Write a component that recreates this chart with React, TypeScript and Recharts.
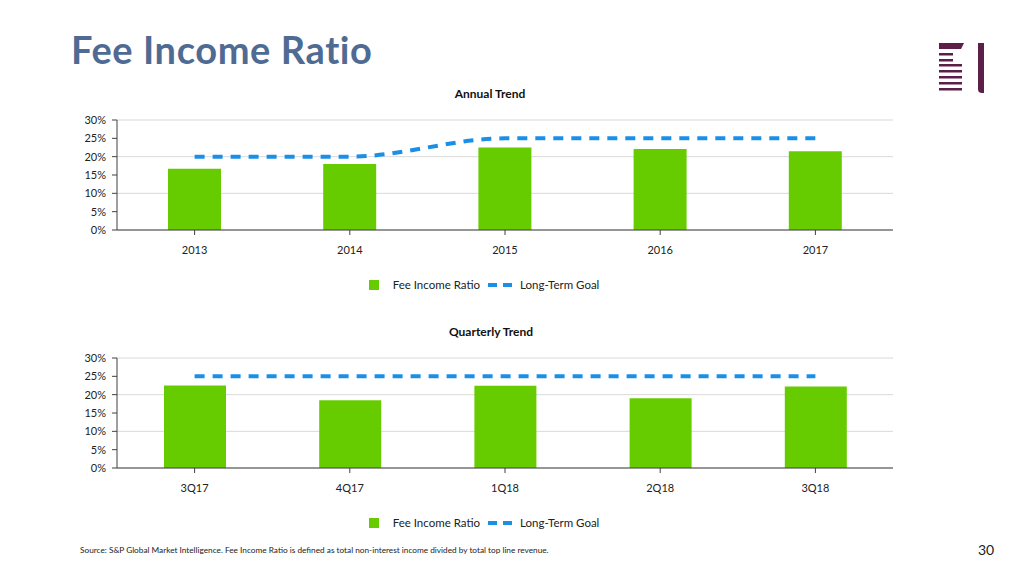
import { ComposedChart, Bar, Line, XAxis, YAxis, CartesianGrid, Legend } from "recharts";

const annualLabels = ["2013", "2014", "2015", "2016", "2017"];
const annualRatio = [0.167, 0.18, 0.225, 0.221, 0.215];
const annualGoal = [0.2, 0.2, 0.25, 0.25, 0.25];

const quarterLabels = ["3Q17", "4Q17", "1Q18", "2Q18", "3Q18"];
const quarterRatio = [0.225, 0.185, 0.224, 0.19, 0.222];
const quarterGoal = [0.25, 0.25, 0.25, 0.25, 0.25];

const yTicks = [0, 0.05, 0.1, 0.15, 0.2, 0.25, 0.3];

const GREEN = "#66cc00";
const BLUE = "#1b8fe6";
const FONT = "Lato, 'Open Sans', sans-serif";

function LegendRow() {
  return (
    <div
      style={{
        display: "flex",
        justifyContent: "center",
        alignItems: "center",
        fontSize: 11.5,
        color: "#222",
        fontFamily: FONT,
        paddingLeft: 8,
        paddingTop: 3,
      }}
    >
      <span style={{ width: 10, height: 10, background: GREEN, display: "inline-block", marginRight: 14 }} />
      <span style={{ marginRight: 8 }}>Fee Income Ratio</span>
      <svg width={24} height={10} style={{ marginRight: 8 }}>
        <line x1={0} y1={5} x2={24} y2={5} stroke={BLUE} strokeWidth={4} strokeDasharray="9 6" />
      </svg>
      <span>Long-Term Goal</span>
    </div>
  );
}

function TrendChart({ labels, ratio, goal, barSize, top }: { labels: string[]; ratio: number[]; goal: number[]; barSize: number; top: number }) {
  const data = labels.map((name, i) => ({ name, ratio: ratio[i], goal: goal[i] }));
  return (
    <div style={{ position: "absolute", left: 0, top }}>
      <ComposedChart width={1024} height={190} data={data} margin={{ top: 10, right: 131, bottom: 5, left: 67 }}>
        <CartesianGrid vertical={false} stroke="#d9d9d9" />
        <XAxis
          dataKey="name"
          height={45}
          stroke="#404040"
          tickSize={5}
          tickMargin={11}
          tick={{ fill: "#222", fontSize: 11, fontFamily: FONT }}
        />
        <YAxis
          width={50}
          domain={[0, 0.3]}
          ticks={yTicks}
          stroke="#404040"
          tickSize={5}
          tickMargin={6}
          tickFormatter={(v: number) => `${Math.round(v * 100)}%`}
          tick={{ fill: "#222", fontSize: 11, fontFamily: FONT }}
        />
        <Legend height={20} content={() => <LegendRow />} />
        <Bar dataKey="ratio" fill={GREEN} barSize={barSize} isAnimationActive={false} />
        <Line
          type="monotone"
          dataKey="goal"
          stroke={BLUE}
          strokeWidth={4}
          strokeDasharray="10 8"
          dot={false}
          activeDot={false}
          isAnimationActive={false}
        />
      </ComposedChart>
    </div>
  );
}

export default function App() {
  return (
    <div
      style={{
        position: "fixed",
        left: 0,
        top: 0,
        width: 1024,
        height: 576,
        background: "#fff",
        fontFamily: FONT,
        overflow: "hidden",
      }}
    >
      <div
        style={{
          position: "absolute",
          left: 71,
          top: 27,
          fontSize: 38,
          fontWeight: 700,
          color: "#4f6b93",
          lineHeight: "44px",
          letterSpacing: 0.6,
          fontVariantLigatures: "none",
        }}
      >
        Fee Income Ratio
      </div>
      <svg width={60} height={60} style={{ position: "absolute", left: 930, top: 38 }}>
        <path d="M9 5 H34 L31 11 H9 Z" fill="#5c1f48" />
        <rect x={9} y={15} width={14} height={2.5} fill="#5c1f48" />
        <rect x={9} y={21} width={14} height={2.5} fill="#5c1f48" />
        <rect x={9} y={26} width={23} height={2.5} fill="#5c1f48" />
        <rect x={9} y={32} width={23} height={2.5} fill="#5c1f48" />
        <rect x={9} y={38} width={23} height={2.5} fill="#5c1f48" />
        <rect x={9} y={44} width={23} height={2.5} fill="#5c1f48" />
        <rect x={9} y={50} width={23} height={2.5} fill="#5c1f48" />
        <path d="M48 5 H54 V55 H52 Q48 55 48 51 Z" fill="#5c1f48" />
      </svg>

      <div style={{ position: "absolute", left: 0, width: 980, top: 86, textAlign: "center", fontSize: 12, fontWeight: 700, color: "#111" }}>
        Annual Trend
      </div>
      <TrendChart labels={annualLabels} ratio={annualRatio} goal={annualGoal} barSize={53} top={110} />

      <div style={{ position: "absolute", left: 0, width: 982, top: 324, textAlign: "center", fontSize: 12, fontWeight: 700, color: "#111" }}>
        Quarterly Trend
      </div>
      <TrendChart labels={quarterLabels} ratio={quarterRatio} goal={quarterGoal} barSize={62} top={348} />

      <div style={{ position: "absolute", left: 80, top: 545, fontSize: 8.25, color: "#222" }}>
        Source: S&amp;P Global Market Intelligence. Fee Income Ratio is defined as total non-interest income divided by total top line revenue.
      </div>
      <div style={{ position: "absolute", left: 978, top: 541, fontSize: 14, color: "#222" }}>30</div>
    </div>
  );
}
